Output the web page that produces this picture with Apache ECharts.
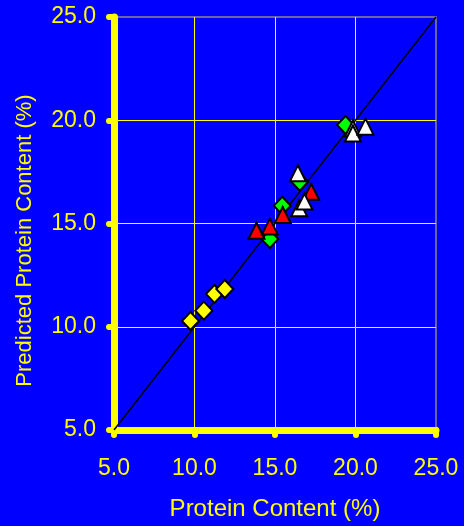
<!DOCTYPE html>
<html>
<head>
<meta charset="utf-8">
<script src="https://cdn.jsdelivr.net/npm/echarts@6/dist/echarts.min.js"></script>
<style>
  html, body { margin: 0; padding: 0; background: #0000ff; }
  #chart { width: 464px; height: 526px; }
</style>
</head>
<body>
<div id="chart"></div>
<script>
// Axis ticks (both axes share the same scale)
const tickValues = [5.0, 10.0, 15.0, 20.0, 25.0];

// 1:1 reference line
const lineX = [5, 25];
const lineY = [5, 25];

// Sample groups: measured (x) vs predicted (y) protein content
const yellowX = [9.75, 10.58, 11.24, 11.88];
const yellowY = [10.28, 10.78, 11.59, 11.83];

const greenX = [14.68, 15.45, 16.54, 19.38];
const greenY = [14.25, 15.86, 17.02, 19.77];

const redX = [13.85, 14.68, 15.48, 17.25];
const redY = [14.65, 14.85, 15.41, 16.54];

const whiteX = [16.42, 16.50, 16.83, 19.84, 19.84, 20.62];
const whiteY = [17.43, 15.74, 16.06, 19.60, 19.36, 19.69];

const pairs = (xs, ys) => xs.map((x, i) => [x, ys[i]]);

const YELLOW = '#ffff00';
const FONT = 'Liberation Sans';

function axis(name, extra) {
  return Object.assign({
    type: 'value',
    min: tickValues[0],
    max: tickValues[tickValues.length - 1],
    interval: tickValues[1] - tickValues[0],
    name: name,
    nameLocation: 'middle',
    nameTextStyle: { color: YELLOW, fontFamily: FONT, fontSize: 22 },
    axisLine: { show: true, lineStyle: { color: YELLOW, width: 7, cap: 'round' } },
    axisTick: { show: true, length: 5, lineStyle: { color: YELLOW, width: 6, cap: 'round' } },
    axisLabel: {
      color: YELLOW, fontFamily: FONT, fontSize: 23,
      formatter: v => v.toFixed(1)
    },
    splitLine: {
      show: true, showMinLine: false, showMaxLine: false,
      lineStyle: { color: YELLOW, width: 1 }
    }
  }, extra);
}

const markerBorder = { borderColor: '#000000', borderWidth: 2, opacity: 1 };

const chart = echarts.init(document.getElementById('chart'), null, { renderer: 'canvas' });
chart.setOption({
  backgroundColor: '#0000ff',
  animation: false,
  grid: {
    left: 114, right: 28, top: 17, bottom: 96,
    show: true, backgroundColor: 'transparent',
    borderColor: '#8a8a8a', borderWidth: 1.5
  },
  xAxis: axis('Protein Content (%)', {
    nameGap: 67,
    nameTextStyle: { color: YELLOW, fontFamily: FONT, fontSize: 24 },
    axisLabel: {
      color: YELLOW, fontFamily: FONT, fontSize: 23, margin: 27,
      formatter: v => v.toFixed(1)
    }
  }),
  yAxis: axis('Predicted Protein Content (%)', {
    nameGap: 78,
    nameTextStyle: { color: YELLOW, fontFamily: FONT, fontSize: 22, padding: [0, 34, 0, 0] },
    axisLabel: {
      color: YELLOW, fontFamily: FONT, fontSize: 23, margin: 18,
      formatter: v => v.toFixed(1)
    }
  }),
  series: [
    {
      type: 'line', data: pairs(lineX, lineY), symbol: 'none',
      lineStyle: { color: '#000000', width: 1.5 }, z: 3
    },
    {
      type: 'scatter', data: pairs(yellowX, yellowY), symbol: 'diamond',
      symbolSize: [17, 18], itemStyle: Object.assign({ color: YELLOW }, markerBorder), z: 4
    },
    {
      type: 'scatter', data: pairs(greenX, greenY), symbol: 'diamond',
      symbolSize: [17, 18], itemStyle: Object.assign({ color: '#00ff00' }, markerBorder), z: 5
    },
    {
      type: 'scatter', data: pairs(redX, redY), symbol: 'triangle',
      symbolSize: [16, 16], itemStyle: Object.assign({ color: '#ff0000' }, markerBorder), z: 6
    },
    {
      type: 'scatter', data: pairs(whiteX, whiteY), symbol: 'triangle',
      symbolSize: [16, 16], itemStyle: Object.assign({ color: '#ffffff' }, markerBorder), z: 7
    }
  ]
});
</script>
</body>
</html>
